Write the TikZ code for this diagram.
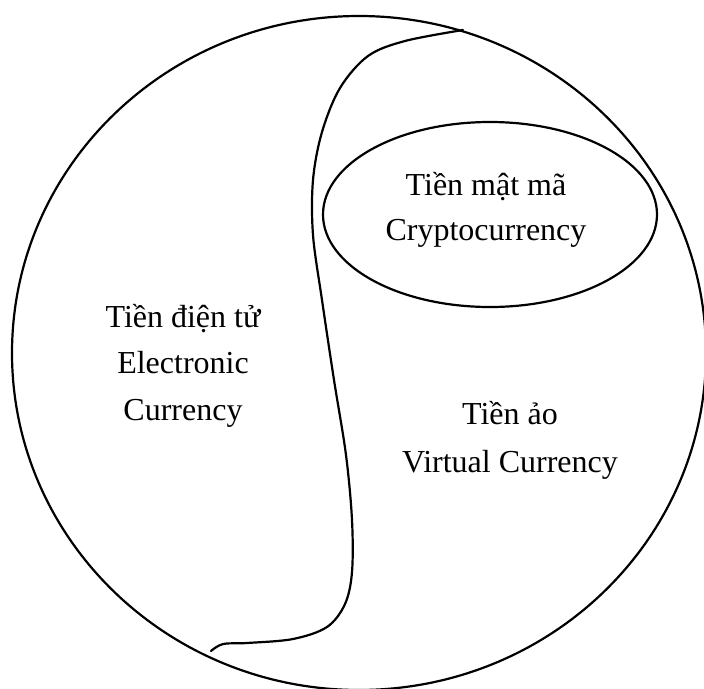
\documentclass[tikz,border=0pt]{standalone}
\usepackage{fontspec}
\setmainfont{Liberation Serif}
\begin{document}
\begin{tikzpicture}[x=1pt,y=-1pt,
  outline/.style={line width=2.2pt, line join=round, line cap=round},
  label/.style={font=\fontsize{32}{38}\selectfont, anchor=base, inner sep=0pt}]
  \useasboundingbox (0,0) rectangle (704,688);
  \clip (0,0) rectangle (704,688);
  % outer region
  \draw[outline] (359,353) ellipse [x radius=347, y radius=337];
  % inner ellipse for cryptocurrency
  \draw[outline] (490,214.5) ellipse [x radius=167, y radius=92.5];
  % S-shaped boundary between electronic and virtual currency
  \draw[outline] plot[smooth, tension=0.55] coordinates {
    (463,30) (405,41) (368,56) (340,88) (322,132) (313,180) (313,235)
    (322,300) (334,380) (346,455) (352,520) (352,572) (345,604)
    (327,627) (293,639) (247,643) (223,644) (211,651)};
  % labels
  \node[label] (e1) at (183,327) {Tiền điện tử};
  \node[label] (e2) at (183,373) {Electronic};
  \node[label] (e3) at (183,420) {Currency};
  \node[label] (c1) at (486,195) {Tiền mật mã};
  \node[label] (c2) at (486,240) {Cryptocurrency};
  \node[label] (v1) at (510,424) {Tiền ảo};
  \node[label] (v2) at (510,472) {Virtual Currency};
\end{tikzpicture}
\end{document}
